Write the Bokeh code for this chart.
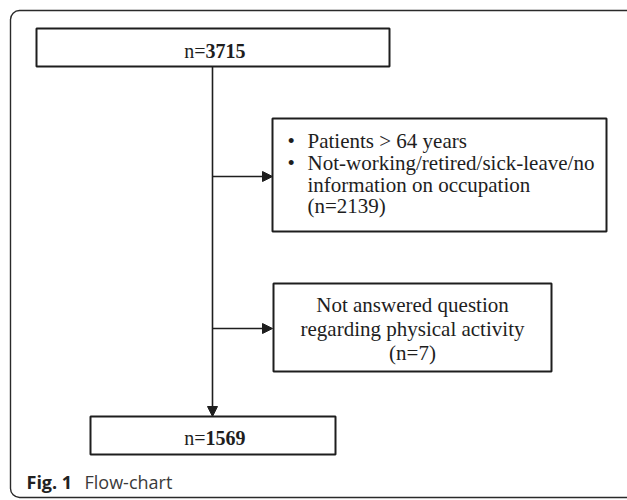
from bokeh.plotting import figure
from bokeh.models import Range1d, Arrow, NormalHead, BoxAnnotation, ColumnDataSource
from bokeh.core.properties import value
from bokeh.embed import file_html
from bokeh.resources import INLINE

# ---- data ----
start_n = "3715"
excl1_bullets = ["Patients > 64 years", "Not-working/retired/sick-leave/no"]
excl1_extra = ["information on occupation", "(n=2139)"]
excl2_lines = ["Not answered question", "regarding physical activity", "(n=7)"]
final_n = "1569"
caption_bold = "Fig. 1"
caption_text = "Flow-chart"

SERIF = value("Liberation Serif")
SANS = value("Open Sans")
FS = "21px"
FSN = "20px"
INK = "#1e1e1e"
DY = -6  # baseline correction

p = figure(width=627, height=500, output_backend="svg", toolbar_location=None,
           x_range=Range1d(0, 627), y_range=Range1d(500, 0),
           min_border=0, outline_line_color=None)
p.axis.visible = False
p.grid.visible = False
p.background_fill_color = "white"

# outer frame (rounded)
p.add_layout(BoxAnnotation(left=10, right=660, top=10, bottom=497,
                           border_radius=9, fill_alpha=0,
                           line_color="#2a2a2a", line_alpha=1.0, line_width=1.4))

# boxes
boxes = ColumnDataSource(dict(
    left=[36, 272, 273, 90],
    right=[389, 606, 551, 335],
    top=[28, 118, 283, 416],
    bottom=[66, 231, 371, 454],
))
p.quad(left="left", right="right", top="top", bottom="bottom", source=boxes,
       fill_color="white", line_color=INK, line_width=2)

# vertical flow line with arrow
p.add_layout(Arrow(end=NormalHead(size=10, fill_color=INK, line_color=INK),
                   x_start=212, y_start=66, x_end=212, y_end=416,
                   line_color=INK, line_width=1.6))
# side arrows
for yy in (176, 328):
    p.add_layout(Arrow(end=NormalHead(size=10, fill_color=INK, line_color=INK),
                       x_start=212, y_start=yy, x_end=272, y_end=yy,
                       line_color=INK, line_width=1.6))

# top / bottom counts
p.text(x=[205, 205], y=[56 + DY, 443 + DY], text=["n=", "n="], text_font=SERIF,
       text_font_size=FSN, text_align="right", text_baseline="alphabetic",
       text_color=INK)
p.text(x=[205, 205], y=[56 + DY, 443 + DY], text=[start_n, final_n], text_font=SERIF,
       text_font_size=FSN, text_font_style="bold", text_align="left",
       text_baseline="alphabetic", text_color=INK)

# exclusion box 1
p.text(x=[287, 287], y=[146.5 + DY, 168 + DY], text=["\u2022", "\u2022"], text_font=SERIF,
       text_font_size=FS, text_align="left", text_baseline="alphabetic", text_color=INK)
p.text(x=[307, 307, 307, 307], y=[146.5 + DY, 168 + DY, 190 + DY, 211.5 + DY],
       text=excl1_bullets + excl1_extra, text_font=SERIF,
       text_font_size=FS, text_align="left", text_baseline="alphabetic", text_color=INK)

# exclusion box 2
p.text(x=[412, 412, 412], y=[310 + DY, 334 + DY, 358 + DY], text=excl2_lines, text_font=SERIF,
       text_font_size=FS, text_align="center", text_baseline="alphabetic", text_color=INK)

# caption
p.text(x=[26], y=[487 + DY], text=[caption_bold], text_font=SANS, text_font_size="18px",
       text_font_style="bold", text_align="left", text_baseline="alphabetic",
       text_color="#222222")
p.text(x=[84], y=[487 + DY], text=[caption_text], text_font=SANS, text_font_size="18px",
       text_align="left", text_baseline="alphabetic", text_color="#3a3a3a")

open("out.html", "w").write(file_html(p, INLINE))
